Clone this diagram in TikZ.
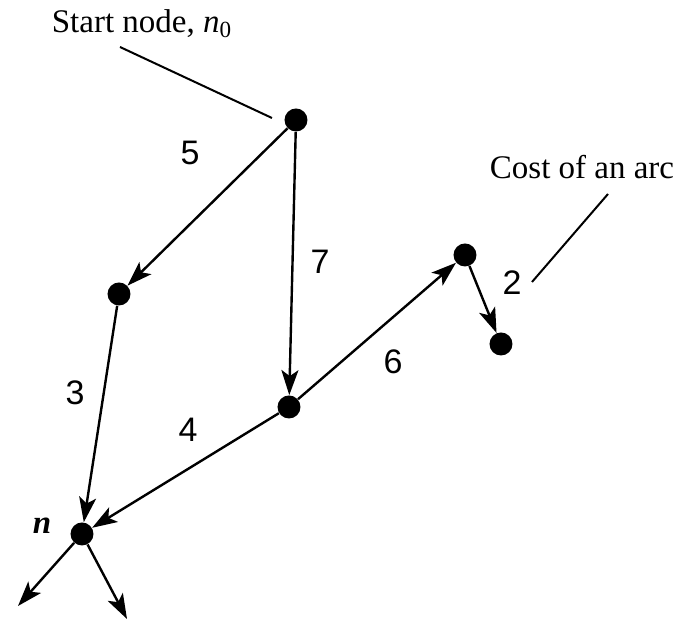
\documentclass[tikz,border=0pt]{standalone}
\usepackage{fontspec}
\setmainfont{Liberation Serif}
\newfontfamily\costfont{Liberation Sans}
\usetikzlibrary{arrows.meta}

\begin{document}
\begin{tikzpicture}[
    x=0.5pt, y=-0.5pt,
    dot/.style={circle, fill=black, inner sep=0pt, minimum size=11.5pt},
    arc/.style={-{Stealth[length=12.5pt,width=8.5pt,inset=3pt]}, line width=1.2pt},
    cost/.style={font=\costfont\fontsize{17}{20}\selectfont},
    note/.style={font=\fontsize{16.5}{19}\selectfont},
    lead/.style={line width=1pt},
]
\useasboundingbox (0,0) rectangle (677,619);

% Nodes of the graph
\node[dot] (start) at (296,120) {};
\node[dot] (left) at (119,294) {};
\node[dot] (mid) at (289,407) {};
\node[dot] (top) at (465,255) {};
\node[dot] (right) at (501,344) {};
\node[dot] (goal) at (82,534) {};
\coordinate (outa) at (18,606);
\coordinate (outb) at (127,619);

% Arcs
\draw[arc] (start) -- (left);
\draw[arc] (start) -- (mid);
\draw[arc] (mid) -- (top);
\draw[arc] (top) -- (right);
\draw[arc] (left) -- (goal);
\draw[arc] (mid) -- (goal);
\draw[arc] (goal) -- (outa);
\draw[arc] (goal) -- (outb);

% Arc costs
\node[cost] (c5) at (190,153) {5};
\node[cost] (c7) at (320,262) {7};
\node[cost] (c2) at (512,283) {2};
\node[cost] (c6) at (393,362) {6};
\node[cost] (c3) at (75,393) {3};
\node[cost] (c4) at (188,430) {4};

% Annotations
\node[note] (startlbl) at (142,24) {Start node, \textit{n}\textsubscript{0}};
\node[note] (costlbl) at (582,167) {Cost of an arc};
\node[note] (goallbl) at (42,526) {\textbf{\textit{n}}};
\coordinate (startend) at (272,118);
\coordinate (startbeg) at (120,47);
\coordinate (costbeg) at (608,194);
\coordinate (costend) at (532,282);
\draw[lead] (startbeg) -- (startend);
\draw[lead] (costbeg) -- (costend);

\end{tikzpicture}
\end{document}
